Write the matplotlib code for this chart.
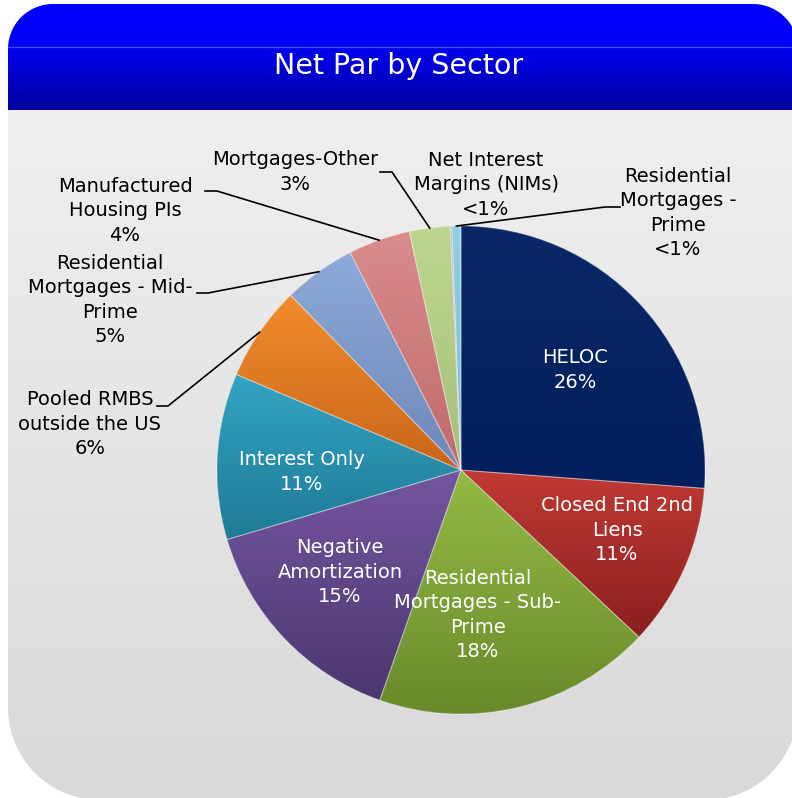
import numpy as np
import matplotlib
matplotlib.use("Agg")
import matplotlib.pyplot as plt
from matplotlib.patches import Polygon, Wedge
from matplotlib.colors import LinearSegmentedColormap

# ---- data -------------------------------------------------------------
sectors = [
    "HELOC",
    "Closed End 2nd\nLiens",
    "Residential\nMortgages - Sub-\nPrime",
    "Negative\nAmortization",
    "Interest Only",
    "Pooled RMBS\noutside the US",
    "Residential\nMortgages - Mid-\nPrime",
    "Manufactured\nHousing PIs",
    "Mortgages-Other",
    "Net Interest\nMargins (NIMs)",
    "Residential\nMortgages -\nPrime",
]
net_par_pct = [26.2, 10.8, 18.4, 15.0, 11.0, 6.3, 4.8, 4.1, 2.7, 0.1, 0.6]

# slice gradient colours (top -> bottom)
top_colors = ["#0b2767", "#c03a34", "#93bb45", "#7556a0", "#33a4c4",
              "#f38c2c", "#8eaad9", "#da8c8c", "#bdd68f", "#b7a6cb", "#93d0e0"]
bottom_colors = ["#001f5c", "#8a1f1f", "#67892a", "#4c366e", "#1f7a94",
                 "#c8651a", "#6d88b8", "#c06a6a", "#a5c07a", "#9c88b5", "#79bdd0"]

# ---- layout (pixel space, origin top-left) ---------------------------
W, H = 792, 798
PIE_CX, PIE_CY, PIE_R = 461, 470, 244

# label anchor positions and whether the label sits inside its slice
label_pos = [(575, 370), (617, 530), (478, 615), (340, 572), (302, 472),
             (90, 424), (110, 300), (125, 211), (295, 172), (486, 185),
             (678, 213)]
label_inside = [True, True, True, True, True,
                False, False, False, False, False, False]
# elbow of the leader line (None = no leader)
leader_elbow = [None, None, None, None, None,
                ((157, 406), (168, 406)),
                ((197, 293), (208, 293)),
                ((205, 191), (217, 191)),
                ((380, 172), (392, 172)),
                None,
                ((620, 207), (605, 207))]


def P(x, y):
    """pixel (top-left origin) -> data coordinates"""
    return x, H - y


def rounded_rect(x0, y0, x1, y1, r_top, r_bot, n=40):
    pts = []
    for a in np.linspace(np.pi, np.pi / 2, n):
        pts.append((x0 + r_top + r_top * np.cos(a), y0 + r_top - r_top * np.sin(a)))
    for a in np.linspace(np.pi / 2, 0, n):
        pts.append((x1 - r_top + r_top * np.cos(a), y0 + r_top - r_top * np.sin(a)))
    if r_bot > 0:
        for a in np.linspace(0, -np.pi / 2, n):
            pts.append((x1 - r_bot + r_bot * np.cos(a), y1 - r_bot - r_bot * np.sin(a)))
        for a in np.linspace(-np.pi / 2, -np.pi, n):
            pts.append((x0 + r_bot + r_bot * np.cos(a), y1 - r_bot - r_bot * np.sin(a)))
    else:
        pts += [(x1, y1), (x0, y1)]
    return np.array([P(x, y) for x, y in pts])


def vgradient(ax, clip, extent, colors, stops=None, z=0):
    if stops is None:
        cmap = LinearSegmentedColormap.from_list("g", colors)
    else:
        cmap = LinearSegmentedColormap.from_list("g", list(zip(stops, colors)))
    grad = np.linspace(0, 1, 256).reshape(-1, 1)
    im = ax.imshow(grad, extent=extent, origin="upper", cmap=cmap,
                   aspect="auto", interpolation="bilinear", zorder=z)
    im.set_clip_path(clip)
    return im


plt.rcParams["font.family"] = ["DejaVu Sans"]
fig = plt.figure(figsize=(W / 100, H / 100), dpi=100)
fig.patch.set_facecolor("white")
ax = fig.add_axes([0, 0, 1, 1])

# ---- panel background -------------------------------------------------
panel = Polygon(rounded_rect(8, 4, 798, 800, 45, 92), closed=True,
                fc="none", ec="none", zorder=0)
ax.add_patch(panel)
vgradient(ax, panel, (8, 798, H - 800, H - 110), ["#efefef", "#d9d9d9"], z=0)

header = Polygon(rounded_rect(8, 4, 798, 110, 45, 0), closed=True,
                 fc="none", ec="none", zorder=0.5)
ax.add_patch(header)
vgradient(ax, header, (8, 798, H - 110, H - 4),
          ["#0000ff", "#0000f4", "#00009c"], stops=[0, 0.4, 1], z=0.5)
hl, = ax.plot([8, 798], [H - 47, H - 47], color="#4a4aff", lw=0.9, zorder=0.6)
hl.set_clip_path(header)
ax.text(*P(399, 66), "Net Par by Sector", color="white", fontsize=20.5,
        ha="center", va="center", zorder=5)

# ---- pie ---------------------------------------------------------------
wedges, _ = ax.pie(net_par_pct, startangle=90, counterclock=False,
                   center=P(PIE_CX, PIE_CY), radius=PIE_R, frame=True,
                   wedgeprops=dict(linewidth=0.8, edgecolor=(1, 1, 1, 0.35)))

for w, c0, c1 in zip(wedges, top_colors, bottom_colors):
    v = w.get_path().vertices
    ext = (v[:, 0].min(), v[:, 0].max(), v[:, 1].min(), v[:, 1].max())
    w.set_facecolor(c1)
    w.set_zorder(1)
    vgradient(ax, w, ext, [c0, c1], z=1.5)
    ax.add_patch(Wedge(w.center, w.r, w.theta1, w.theta2, fill=False,
                       lw=0.8, ec=(1, 1, 1, 0.3), zorder=2))

# ---- labels and leader lines ---------------------------------------------
for name, val, w, pos, inside, elbow in zip(sectors, net_par_pct, wedges,
                                            label_pos, label_inside, leader_elbow):
    pct = "<1%" if val < 1 else f"{round(val):d}%"
    ax.text(*P(*pos), f"{name}\n{pct}", ha="center", va="center",
            fontsize=14, color="white" if inside else "black",
            linespacing=1.37, zorder=6)
    if elbow is not None:
        mid = np.deg2rad((w.theta1 + w.theta2) / 2)
        cx, cy = w.center
        tip = (cx + w.r * np.cos(mid), cy + w.r * np.sin(mid))
        xs = [P(*elbow[0])[0], P(*elbow[1])[0], tip[0]]
        ys = [P(*elbow[0])[1], P(*elbow[1])[1], tip[1]]
        ax.plot(xs, ys, color="black", lw=1.2, zorder=4,
                solid_joinstyle="miter")

ax.set_xlim(0, W)
ax.set_ylim(0, H)
ax.set_aspect("equal")
ax.axis("off")
fig.savefig("out.png", dpi=100, facecolor="white")
